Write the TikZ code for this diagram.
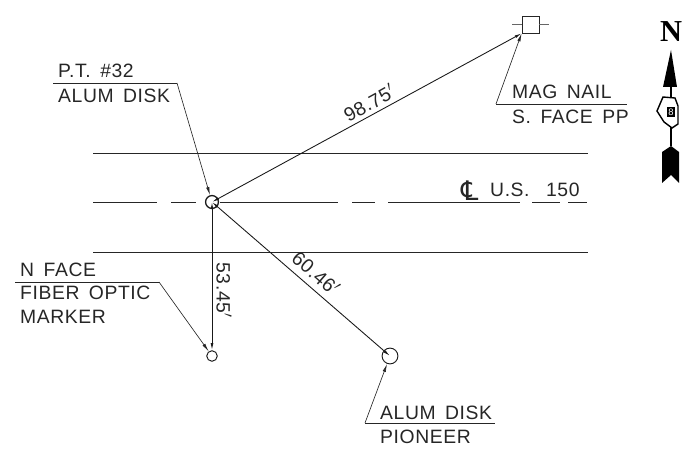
\documentclass[tikz,border=0pt]{standalone}
\usepackage{fontspec}
\setmainfont{Liberation Sans}[LetterSpace=3,WordSpace=1.6]
\newfontfamily\northfont{Liberation Serif}
\newfontfamily\clfont{DejaVu Sans}
\usetikzlibrary{arrows.meta}
\tikzset{
	cadtext/.style={inner sep=0pt,anchor=west,font=\fontsize{16.5}{18}\selectfont,text=black!85},
	dimtext/.style={inner sep=0pt,font=\fontsize{16.5}{18}\selectfont,text=black!85},
	roadline/.style={line width=0.6pt,black!85},
	leaderline/.style={line width=0.55pt,black!85},
	pointer/.style={leaderline,-{Latex[length=7pt,width=2.8pt]}},
	tielink/.style={line width=0.75pt,black!90,{Latex[length=6pt,width=2.4pt]}-{Latex[length=6pt,width=2.4pt]}},
	monument/.style={circle,draw=black!90,line width=0.8pt,inner sep=0pt}
}
\begin{document}
\begin{tikzpicture}[x=0.03cm,y=-0.03cm]
	\useasboundingbox (0,0) rectangle (687,453);

	% road
	\draw [roadline] (93,153) -- (588,153);
	\draw [roadline] (93,252) -- (588,252);
	\foreach \xa/\xb in {93/157,171/196,220/338,352/375,388/520,532/560,568/587}
		\draw [roadline] (\xa,202) -- (\xb,202);

	% points
	\node [monument,line width=1.1pt,minimum size=11pt] (ptdisk) at (212,202) {};
	\node [monument,minimum size=9pt] (marker) at (212,356) {};
	\node [monument,minimum size=13.5pt] (pioneer) at (390,356) {};
	\node [rectangle,draw=black!85,line width=0.6pt,minimum size=14.5pt,inner sep=0pt] (nail) at (530.5,24.5) {};
	\draw [leaderline,black!60] (nail.west) -- ++(-10,0);
	\draw [leaderline,black!60] (nail.east) -- ++(10,0);

	% ties
	\draw [tielink] (ptdisk.center) -- (nail.south west);
	\draw [tielink] (ptdisk.center) -- (marker.north);
	\draw [tielink] (ptdisk.center) -- (pioneer.center);
	\node [dimtext,rotate=-90] (dimmarker) at (224,290) {53.45$'$};
	\node [dimtext,rotate=-41] (dimpioneer) at (316,273) {60.46$'$};
	\node [dimtext,rotate=29] (dimnail) at (369,103) {98.75$'$};
	\node [cadtext,font=\clfont\fontsize{23}{24}\selectfont] (clmark) at (461,191) {℄};
	\node [cadtext] (clname) at (490,190) {U.S.\hspace{6pt} 150};

	% labels
	\coordinate (ptstart) at (53,83);
	\coordinate (ptbend) at (177,83);
	\coordinate (nailbend) at (496,104);
	\coordinate (nailend) at (627,104);
	\coordinate (markerstart) at (15,282);
	\coordinate (markerbend) at (159,282);
	\coordinate (pioneerbend) at (365,423);
	\coordinate (pioneerend) at (495,423);
	\draw [leaderline] (ptstart) -- (ptbend);
	\draw [pointer] (ptbend) -- (ptdisk);
	\draw [leaderline] (nailbend) -- (nailend);
	\draw [pointer] (nailbend) -- (nail.south west);
	\draw [leaderline] (markerstart) -- (markerbend);
	\draw [pointer] (markerbend) -- (marker);
	\draw [leaderline] (pioneerbend) -- (pioneerend);
	\draw [pointer] (pioneerbend) -- (pioneer);

	\node [cadtext] (ptname) at (58,71) {P.T. \#32};
	\node [cadtext] (ptkind) at (58,96) {ALUM DISK};
	\node [cadtext] (nailname) at (512,92) {MAG NAIL};
	\node [cadtext] (nailface) at (512,117) {S. FACE PP};
	\node [cadtext] (markerface) at (20,270) {N FACE};
	\node [cadtext] (markerkind) at (20,293) {FIBER OPTIC};
	\node [cadtext] (markername) at (20,317) {MARKER};
	\node [cadtext] (pioneerkind) at (380,413) {ALUM DISK};
	\node [cadtext] (pioneername) at (380,437) {PIONEER};

	% north arrow
	\node [inner sep=0pt,font=\northfont\bfseries\fontsize{26}{28}\selectfont] (north) at (671,32) {N};
	\fill (671,50) -- (677,87) -- (663,87) -- cycle;
	\fill (671,146) -- (679,152) -- (679,183) -- (671,175) -- (662,183) -- (662,152) -- cycle;
	\draw [line width=1pt] (671,87) -- (671,146);
	\draw [line width=1.2pt,fill=white] (663,97) -- (675,98) -- (678,106) -- (678,124) -- (672,128) -- (664,122) -- (657,111) -- cycle;
	\node [fill=black,text=white,inner sep=1.5pt,font=\fontsize{8}{8}\selectfont] (route) at (671,112) {8};
\end{tikzpicture}
\end{document}
